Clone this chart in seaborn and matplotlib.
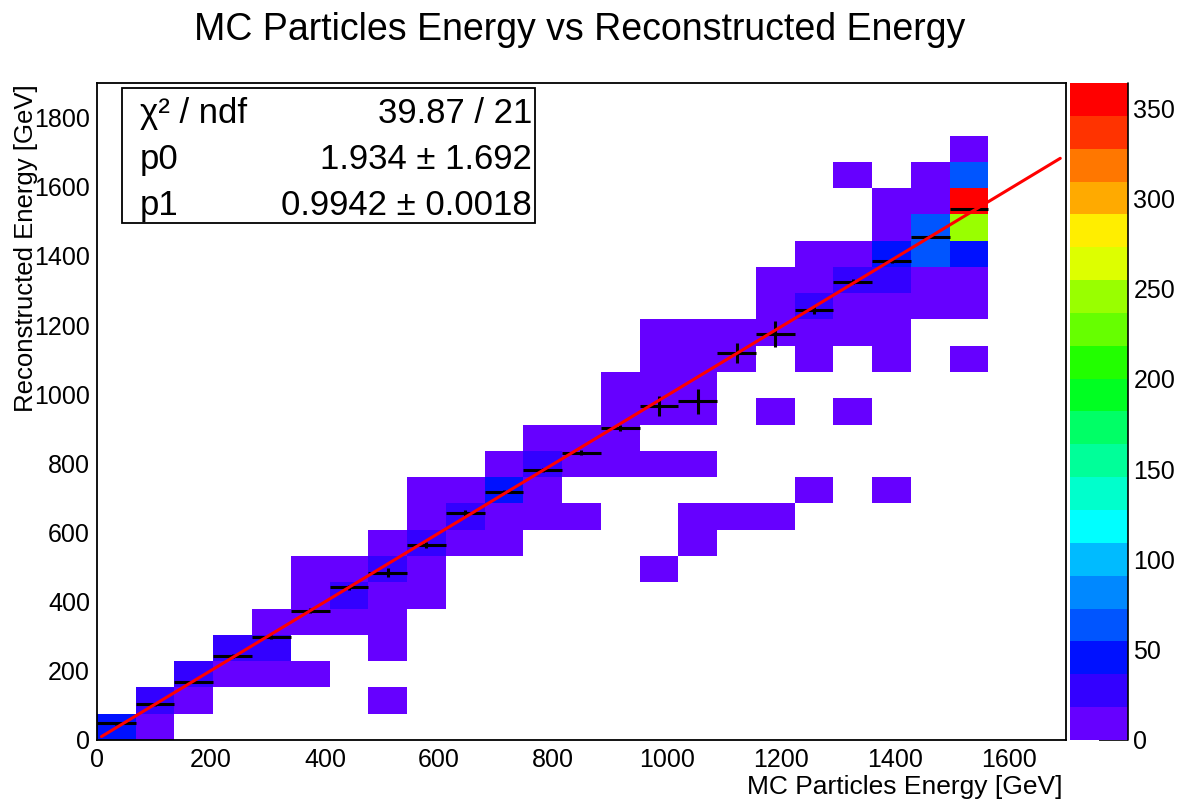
import matplotlib
matplotlib.use('Agg')
import matplotlib.pyplot as plt
from matplotlib.colors import ListedColormap
from matplotlib.patches import Rectangle
from matplotlib.ticker import MultipleLocator
import seaborn as sns
import numpy as np
import pandas as pd

# histogram binning (GeV)
x_nbins, x_max = 25, 1700
y_nbins, y_max = 25, 1900
z_max = 364

# filled cells: MC energy bin, reconstructed energy bin, entries
cell_xbin = [0,
             1, 1,
             2, 2,
             3, 3,
             4, 4, 4,
             5, 5, 5, 5,
             6, 6, 6,
             7, 7, 7, 7, 7, 7,
             8, 8, 8, 8, 8,
             9, 9, 9,
             10, 10, 10, 10,
             11, 11, 11, 11,
             12, 12, 12,
             13, 13, 13, 13,
             14, 14, 14, 14, 14, 14,
             15, 15, 15, 15, 15, 15, 15,
             16, 16, 16,
             17, 17, 17, 17, 17,
             18, 18, 18, 18, 18, 18,
             19, 19, 19, 19, 19, 19,
             20, 20, 20, 20, 20, 20, 20, 20,
             21, 21, 21, 21, 21, 21,
             22, 22, 22, 22, 22, 22, 22, 22]
cell_ybin = [0,
             0, 1,
             1, 2,
             2, 3,
             2, 3, 4,
             2, 4, 5, 6,
             4, 5, 6,
             1, 3, 4, 5, 6, 7,
             5, 6, 7, 8, 9,
             7, 8, 9,
             7, 8, 9, 10,
             8, 9, 10, 11,
             8, 10, 11,
             10, 11, 12, 13,
             6, 10, 12, 13, 14, 15,
             7, 8, 10, 12, 13, 14, 15,
             8, 14, 15,
             8, 12, 15, 16, 17,
             9, 14, 15, 16, 17, 18,
             12, 15, 16, 17, 18, 21,
             9, 14, 15, 16, 17, 18, 19, 20,
             16, 17, 18, 19, 20, 21,
             14, 16, 17, 18, 19, 20, 21, 22]
cell_n = [40,
          6, 27,
          8, 28,
          9, 26,
          5, 24, 7,
          3, 12, 6, 2,
          8, 30, 10,
          1, 2, 4, 9, 22, 6,
          3, 10, 29, 12, 2,
          9, 32, 11,
          3, 14, 41, 8,
          2, 10, 33, 12,
          1, 14, 16,
          4, 9, 15, 8,
          1, 2, 7, 12, 10, 3,
          1, 2, 2, 4, 11, 14, 5,
          1, 12, 16,
          1, 1, 17, 13, 4,
          1, 3, 14, 31, 16, 5,
          1, 5, 17, 35, 12, 1,
          1, 2, 4, 11, 29, 47, 14, 3,
          6, 15, 66, 70, 12, 3,
          1, 3, 8, 44, 246, 364, 68, 9]

# profile (mean reconstructed energy per MC bin) and its errors
prof_mean = [48, 103, 169, 243, 299, 374, 441, 484, 564, 656, 716, 781,
             831, 902, 966, 979, 1119, 1174, 1244, 1325, 1386, 1456, 1535]
prof_err = [4, 5, 5, 6, 6, 7, 7, 14, 8, 8, 6, 6,
            7, 8, 30, 36, 29, 38, 12, 7, 6, 4, 3]

# pol1 fit
chi2, ndf = 39.87, 21
p0, p0_err = 1.934, 1.692
p1, p1_err = 0.9942, 0.0018
fit_range = [8, 1690]

# ROOT-like rainbow palette, 20 contour levels
root_palette = ['#6600ff', '#3300ff', '#0011ff', '#0055ff', '#0088ff',
                '#00bbff', '#00ffff', '#00ffcc', '#00ff99', '#00ff66',
                '#00ff22', '#22ff00', '#66ff00', '#99ff00', '#ddff00',
                '#ffee00', '#ffaa00', '#ff7700', '#ff3300', '#ff0000']

sns.set_style("white")
plt.rcParams['font.family'] = ['Liberation Sans', 'DejaVu Sans']
plt.rcParams['text.color'] = 'black'
plt.rcParams['axes.labelcolor'] = 'black'
plt.rcParams['xtick.color'] = 'black'
plt.rcParams['ytick.color'] = 'black'

bw_x = x_max / x_nbins
bw_y = y_max / y_nbins
cells = pd.DataFrame({
    'mc': (np.array(cell_xbin) + 0.5) * bw_x,
    'reco': (np.array(cell_ybin) + 0.5) * bw_y,
    'n': cell_n,
})
prof_x = (np.arange(len(prof_mean)) + 0.5) * bw_x

fig = plt.figure(figsize=(11.78, 8.01), dpi=100)
ax = fig.add_axes([0.0823, 0.0762, 0.8226, 0.8202])
cax = fig.add_axes([0.9083, 0.0762, 0.0492, 0.8202])

sns.histplot(data=cells, x='mc', y='reco', weights='n',
             bins=(x_nbins, y_nbins), binrange=((0, x_max), (0, y_max)),
             cmap=ListedColormap(root_palette), vmin=0, vmax=z_max,
             cbar=True, cbar_ax=cax, ax=ax)

ax.errorbar(prof_x, prof_mean, xerr=bw_x / 2, yerr=prof_err, fmt='none',
            ecolor='black', elinewidth=2.2, capsize=0, zorder=3)

fit_x = np.array(fit_range)
sns.lineplot(x=fit_x, y=p0 + p1 * fit_x, color='red', linewidth=2.2, ax=ax,
             zorder=4)

ax.set_xlim(0, x_max)
ax.set_ylim(0, y_max)
ax.set_xlabel('')
ax.set_ylabel('')
ax.xaxis.set_major_locator(MultipleLocator(200))
ax.xaxis.set_minor_locator(MultipleLocator(50))
ax.yaxis.set_major_locator(MultipleLocator(200))
ax.yaxis.set_minor_locator(MultipleLocator(50))
ax.tick_params(axis='x', which='major', direction='in', length=14, width=1.2,
               labelsize=18, pad=6, colors='black')
ax.tick_params(axis='x', which='minor', direction='in', length=7, width=1.2)
ax.tick_params(axis='y', which='major', direction='in', length=21, width=1.2,
               labelsize=18, pad=5, colors='black')
ax.tick_params(axis='y', which='minor', direction='in', length=10, width=1.2)
for s in ax.spines.values():
    s.set_color('black')
    s.set_linewidth(1.3)

fig.text(0.902, 0.003, 'MC Particles Energy [GeV]', ha='right', va='bottom',
         fontsize=19)
fig.text(0.012, 0.895, 'Reconstructed Energy [GeV]', ha='left', va='top',
         rotation=90, fontsize=18.5)
fig.text(0.492, 0.963, 'MC Particles Energy vs Reconstructed Energy',
         ha='center', va='center', fontsize=27)

# colour bar in ROOT style
cbar = ax.collections[0].colorbar
cbar.outline.set_visible(False)
cax.yaxis.set_ticks_position('right')
cax.yaxis.set_major_locator(MultipleLocator(50))
cax.tick_params(axis='y', which='both', direction='in', length=21, width=1.2,
                labelsize=18, pad=4, colors='black')
cax.plot([1, 1], [0, 1], transform=cax.transAxes, color='black', lw=1.2,
         clip_on=False)

# fit statistics box
fig.add_artist(Rectangle((0.1036, 0.7216), 0.3506, 0.1685,
                         transform=fig.transFigure, facecolor='white',
                         edgecolor='black', linewidth=1.3, zorder=5))
rows = [('\u03c7\u00b2 / ndf', f'{chi2:.2f} / {ndf}'),
        ('p0', f'{p0:.3f} \u00b1 {p0_err:.3f}'),
        ('p1', f'{p1:.4f} \u00b1 {p1_err:.4f}')]
for k, (lab, val) in enumerate(rows):
    yy = 0.8465 - k * 0.0575
    fig.text(0.1188, yy, lab, ha='left', va='baseline', fontsize=25, zorder=6)
    fig.text(0.4516, yy, val, ha='right', va='baseline', fontsize=25, zorder=6)

fig.savefig('out.png', dpi=100, facecolor='white')
